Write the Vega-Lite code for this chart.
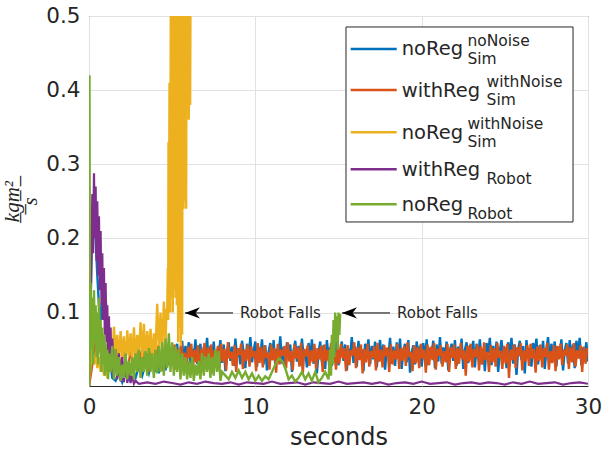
{
  "$schema": "https://vega.github.io/schema/vega-lite/v6.json",
  "width": 499,
  "height": 370,
  "autosize": "none",
  "padding": {"left": 89, "top": 16, "right": 15, "bottom": 70},
  "background": "white",
  "config": {
    "view": {"stroke": "#262626", "strokeWidth": 1},
    "font": "DejaVu Sans",
    "axis": {"domain": false, "ticks": false, "gridColor": "#e2e2e2", "gridWidth": 1, "labelColor": "#262626", "titleColor": "#262626", "labelFont": "DejaVu Sans", "titleFont": "DejaVu Sans", "titleFontWeight": "normal"}
  },
  "datasets": {
    "blue": [{"t":0,"v":0},{"t":0.1,"v":0.12},{"t":0.2,"v":0.24},{"t":0.3,"v":0.26},{"t":0.4,"v":0.2},{"t":0.5,"v":0.15},{"t":0.6,"v":0.11},{"t":0.7,"v":0.09},{"t":0.8,"v":0.12},{"t":0.9,"v":0.13},{"t":1,"v":0.12},{"t":1.1,"v":0.08},{"t":1.2,"v":0.05},{"t":1.3,"v":0.03},{"t":1.4,"v":0.012},
{"t":1.6,"v":0.008},{"t":1.8,"v":0.02},{"t":2,"v":0.006},{"t":2.2,"v":0.018},{"t":2.4,"v":0.01},{"t":2.6,"v":0.025},{"t":2.8,"v":0.012},{"t":3,"v":0.028},{"t":3.2,"v":0.015},{"t":3.4,"v":0.032},{"t":3.6,"v":0.018},{"t":3.8,"v":0.036},
{"t":4,"v":0.02},{"t":4.1,"v":0.035},{"t":4.2,"v":0.018},{"t":4.3,"v":0.04},{"t":4.4,"v":0.025},{"t":4.5,"v":0.044},{"t":4.6,"v":0.022},{"t":4.7,"v":0.038},{"t":4.8,"v":0.03},{"t":4.9,"v":0.047},
{"t":5,"v":0.028},{"t":5.1,"v":0.052},{"t":5.2,"v":0.036},{"t":5.3,"v":0.058},{"t":5.4,"v":0.03},{"t":5.5,"v":0.049},{"t":5.6,"v":0.062},{"t":5.7,"v":0.033},{"t":5.8,"v":0.055},{"t":5.9,"v":0.041},
{"t":6,"v":0.06},{"t":6.1,"v":0.027},{"t":6.2,"v":0.051},{"t":6.3,"v":0.038},{"t":6.4,"v":0.064},{"t":6.5,"v":0.031},{"t":6.6,"v":0.047},{"t":6.7,"v":0.058},{"t":6.8,"v":0.024},{"t":6.9,"v":0.053},
{"t":7,"v":0.042},{"t":7.1,"v":0.066},{"t":7.2,"v":0.029},{"t":7.3,"v":0.055},{"t":7.4,"v":0.037},{"t":7.5,"v":0.061},{"t":7.6,"v":0.026},{"t":7.7,"v":0.05},{"t":7.8,"v":0.044},{"t":7.9,"v":0.063},
{"t":8,"v":0.032},{"t":8.1,"v":0.057},{"t":8.2,"v":0.021},{"t":8.3,"v":0.048},{"t":8.4,"v":0.06},{"t":8.5,"v":0.035},{"t":8.6,"v":0.054},{"t":8.7,"v":0.028},{"t":8.8,"v":0.065},{"t":8.9,"v":0.04},
{"t":9,"v":0.052},{"t":9.1,"v":0.03},{"t":9.2,"v":0.062},{"t":9.3,"v":0.045},{"t":9.4,"v":0.025},{"t":9.5,"v":0.058},{"t":9.6,"v":0.038},{"t":9.7,"v":0.067},{"t":9.8,"v":0.033},{"t":9.9,"v":0.049},
{"t":10,"v":0.061},{"t":10.1,"v":0.027},{"t":10.2,"v":0.053},{"t":10.3,"v":0.041},{"t":10.4,"v":0.064},{"t":10.5,"v":0.03},{"t":10.6,"v":0.056},{"t":10.7,"v":0.022},{"t":10.8,"v":0.047},{"t":10.9,"v":0.059},
{"t":11,"v":0.036},{"t":11.1,"v":0.063},{"t":11.2,"v":0.028},{"t":11.3,"v":0.051},{"t":11.4,"v":0.043},{"t":11.5,"v":0.068},{"t":11.6,"v":0.031},{"t":11.7,"v":0.054},{"t":11.8,"v":0.025},{"t":11.9,"v":0.06},
{"t":12,"v":0.039},{"t":12.1,"v":0.057},{"t":12.2,"v":0.02},{"t":12.3,"v":0.049},{"t":12.4,"v":0.062},{"t":12.5,"v":0.034},{"t":12.6,"v":0.055},{"t":12.7,"v":0.029},{"t":12.8,"v":0.065},{"t":12.9,"v":0.042},
{"t":13,"v":0.05},{"t":13.1,"v":0.026},{"t":13.2,"v":0.059},{"t":13.3,"v":0.037},{"t":13.4,"v":0.064},{"t":13.5,"v":0.031},{"t":13.6,"v":0.052},{"t":13.7,"v":0.018},{"t":13.8,"v":0.046},{"t":13.9,"v":0.061},
{"t":14,"v":0.033},{"t":14.1,"v":0.056},{"t":14.2,"v":0.024},{"t":14.3,"v":0.063},{"t":14.4,"v":0.04},{"t":14.5,"v":0.053},{"t":14.6,"v":0.028},{"t":14.7,"v":0.06},{"t":14.8,"v":0.036},{"t":14.9,"v":0.066},
{"t":15,"v":0.029},{"t":15.1,"v":0.048},{"t":15.2,"v":0.061},{"t":15.3,"v":0.035},{"t":15.4,"v":0.057},{"t":15.5,"v":0.022},{"t":15.6,"v":0.051},{"t":15.7,"v":0.043},{"t":15.8,"v":0.067},{"t":15.9,"v":0.032},
{"t":16,"v":0.054},{"t":16.1,"v":0.027},{"t":16.2,"v":0.062},{"t":16.3,"v":0.039},{"t":16.4,"v":0.05},{"t":16.5,"v":0.021},{"t":16.6,"v":0.058},{"t":16.7,"v":0.045},{"t":16.8,"v":0.064},{"t":16.9,"v":0.03},
{"t":17,"v":0.055},{"t":17.1,"v":0.037},{"t":17.2,"v":0.061},{"t":17.3,"v":0.026},{"t":17.4,"v":0.049},{"t":17.5,"v":0.063},{"t":17.6,"v":0.034},{"t":17.7,"v":0.057},{"t":17.8,"v":0.023},{"t":17.9,"v":0.052},
{"t":18,"v":0.041},{"t":18.1,"v":0.066},{"t":18.2,"v":0.031},{"t":18.3,"v":0.054},{"t":18.4,"v":0.028},{"t":18.5,"v":0.06},{"t":18.6,"v":0.038},{"t":18.7,"v":0.065},{"t":18.8,"v":0.024},{"t":18.9,"v":0.05},
{"t":19,"v":0.058},{"t":19.1,"v":0.033},{"t":19.2,"v":0.063},{"t":19.3,"v":0.019},{"t":19.4,"v":0.047},{"t":19.5,"v":0.056},{"t":19.6,"v":0.03},{"t":19.7,"v":0.061},{"t":19.8,"v":0.042},{"t":19.9,"v":0.055},
{"t":20,"v":0.027},{"t":20.1,"v":0.059},{"t":20.2,"v":0.036},{"t":20.3,"v":0.064},{"t":20.4,"v":0.029},{"t":20.5,"v":0.052},{"t":20.6,"v":0.044},{"t":20.7,"v":0.062},{"t":20.8,"v":0.025},{"t":20.9,"v":0.057},
{"t":21,"v":0.034},{"t":21.1,"v":0.067},{"t":21.2,"v":0.031},{"t":21.3,"v":0.053},{"t":21.4,"v":0.04},{"t":21.5,"v":0.061},{"t":21.6,"v":0.022},{"t":21.7,"v":0.049},{"t":21.8,"v":0.058},{"t":21.9,"v":0.035},
{"t":22,"v":0.063},{"t":22.1,"v":0.028},{"t":22.2,"v":0.054},{"t":22.3,"v":0.039},{"t":22.4,"v":0.065},{"t":22.5,"v":0.024},{"t":22.6,"v":0.05},{"t":22.7,"v":0.06},{"t":22.8,"v":0.032},{"t":22.9,"v":0.056},
{"t":23,"v":0.041},{"t":23.1,"v":0.062},{"t":23.2,"v":0.026},{"t":23.3,"v":0.058},{"t":23.4,"v":0.037},{"t":23.5,"v":0.064},{"t":23.6,"v":0.03},{"t":23.7,"v":0.051},{"t":23.8,"v":0.021},{"t":23.9,"v":0.059},
{"t":24,"v":0.045},{"t":24.1,"v":0.066},{"t":24.2,"v":0.029},{"t":24.3,"v":0.055},{"t":24.4,"v":0.034},{"t":24.5,"v":0.061},{"t":24.6,"v":0.02},{"t":24.7,"v":0.048},{"t":24.8,"v":0.063},{"t":24.9,"v":0.038},
{"t":25,"v":0.053},{"t":25.1,"v":0.025},{"t":25.2,"v":0.06},{"t":25.3,"v":0.042},{"t":25.4,"v":0.066},{"t":25.5,"v":0.031},{"t":25.6,"v":0.057},{"t":25.7,"v":0.016},{"t":25.8,"v":0.05},{"t":25.9,"v":0.062},
{"t":26,"v":0.036},{"t":26.1,"v":0.055},{"t":26.2,"v":0.018},{"t":26.3,"v":0.063},{"t":26.4,"v":0.04},{"t":26.5,"v":0.052},{"t":26.6,"v":0.027},{"t":26.7,"v":0.059},{"t":26.8,"v":0.044},{"t":26.9,"v":0.065},
{"t":27,"v":0.03},{"t":27.1,"v":0.056},{"t":27.2,"v":0.038},{"t":27.3,"v":0.062},{"t":27.4,"v":0.024},{"t":27.5,"v":0.051},{"t":27.6,"v":0.067},{"t":27.7,"v":0.033},{"t":27.8,"v":0.058},{"t":27.9,"v":0.043},
{"t":28,"v":0.061},{"t":28.1,"v":0.027},{"t":28.2,"v":0.054},{"t":28.3,"v":0.039},{"t":28.4,"v":0.064},{"t":28.5,"v":0.022},{"t":28.6,"v":0.049},{"t":28.7,"v":0.059},{"t":28.8,"v":0.031},{"t":28.9,"v":0.063},
{"t":29,"v":0.036},{"t":29.1,"v":0.057},{"t":29.2,"v":0.025},{"t":29.3,"v":0.062},{"t":29.4,"v":0.045},{"t":29.5,"v":0.066},{"t":29.6,"v":0.029},{"t":29.7,"v":0.053},{"t":29.8,"v":0.04},{"t":29.9,"v":0.06},{"t":30,"v":0.034}],
    "orange": [{"t":0,"v":0},{"t":0.2,"v":0.03},{"t":0.4,"v":0.062},{"t":0.5,"v":0.045},{"t":0.6,"v":0.058},{"t":0.8,"v":0.035},{"t":0.9,"v":0.05},
{"t":1.1,"v":0.025},{"t":1.3,"v":0.05},{"t":1.5,"v":0.022},{"t":1.7,"v":0.048},{"t":1.9,"v":0.028},{"t":2.1,"v":0.052},{"t":2.3,"v":0.02},{"t":2.5,"v":0.047},{"t":2.7,"v":0.03},{"t":2.9,"v":0.055},
{"t":3.05,"v":0.03},{"t":3.15,"v":0.048},{"t":3.25,"v":0.022},{"t":3.35,"v":0.052},{"t":3.45,"v":0.035},{"t":3.55,"v":0.045},{"t":3.65,"v":0.02},{"t":3.75,"v":0.055},{"t":3.85,"v":0.038},{"t":3.95,"v":0.05},
{"t":4.05,"v":0.026},{"t":4.15,"v":0.056},{"t":4.25,"v":0.033},{"t":4.35,"v":0.047},{"t":4.45,"v":0.021},{"t":4.55,"v":0.053},{"t":4.65,"v":0.04},{"t":4.75,"v":0.058},{"t":4.85,"v":0.028},{"t":4.95,"v":0.049},
{"t":5.05,"v":0.036},{"t":5.15,"v":0.057},{"t":5.25,"v":0.023},{"t":5.35,"v":0.051},{"t":5.45,"v":0.042},{"t":5.55,"v":0.06},{"t":5.65,"v":0.027},{"t":5.75,"v":0.046},{"t":5.85,"v":0.019},{"t":5.95,"v":0.054},
{"t":6.05,"v":0.039},{"t":6.15,"v":0.058},{"t":6.25,"v":0.025},{"t":6.35,"v":0.05},{"t":6.45,"v":0.033},{"t":6.55,"v":0.056},{"t":6.65,"v":0.021},{"t":6.75,"v":0.048},{"t":6.85,"v":0.044},{"t":6.95,"v":0.059},
{"t":7.05,"v":0.029},{"t":7.15,"v":0.053},{"t":7.25,"v":0.037},{"t":7.35,"v":0.057},{"t":7.45,"v":0.018},{"t":7.55,"v":0.049},{"t":7.65,"v":0.041},{"t":7.75,"v":0.055},{"t":7.85,"v":0.026},{"t":7.95,"v":0.058},
{"t":8.05,"v":0.034},{"t":8.15,"v":0.051},{"t":8.25,"v":0.022},{"t":8.35,"v":0.06},{"t":8.45,"v":0.038},{"t":8.55,"v":0.047},{"t":8.65,"v":0.028},{"t":8.75,"v":0.056},{"t":8.85,"v":0.02},{"t":8.95,"v":0.052},
{"t":9.05,"v":0.043},{"t":9.15,"v":0.058},{"t":9.25,"v":0.024},{"t":9.35,"v":0.05},{"t":9.45,"v":0.035},{"t":9.55,"v":0.057},{"t":9.65,"v":0.027},{"t":9.75,"v":0.054},{"t":9.85,"v":0.04},{"t":9.95,"v":0.048},
{"t":10.05,"v":0.021},{"t":10.15,"v":0.059},{"t":10.25,"v":0.032},{"t":10.35,"v":0.053},{"t":10.45,"v":0.026},{"t":10.55,"v":0.056},{"t":10.65,"v":0.039},{"t":10.75,"v":0.046},{"t":10.85,"v":0.023},{"t":10.95,"v":0.057},
{"t":11.05,"v":0.036},{"t":11.15,"v":0.052},{"t":11.25,"v":0.019},{"t":11.35,"v":0.058},{"t":11.45,"v":0.03},{"t":11.55,"v":0.05},{"t":11.65,"v":0.042},{"t":11.75,"v":0.055},{"t":11.85,"v":0.025},{"t":11.95,"v":0.06},
{"t":12.05,"v":0.034},{"t":12.15,"v":0.048},{"t":12.25,"v":0.022},{"t":12.35,"v":0.057},{"t":12.45,"v":0.038},{"t":12.55,"v":0.053},{"t":12.65,"v":0.027},{"t":12.75,"v":0.059},{"t":12.85,"v":0.017},{"t":12.95,"v":0.051},
{"t":13.05,"v":0.041},{"t":13.15,"v":0.056},{"t":13.25,"v":0.028},{"t":13.35,"v":0.049},{"t":13.45,"v":0.033},{"t":13.55,"v":0.058},{"t":13.65,"v":0.024},{"t":13.75,"v":0.052},{"t":13.85,"v":0.037},{"t":13.95,"v":0.055},
{"t":14.05,"v":0.02},{"t":14.15,"v":0.057},{"t":14.25,"v":0.035},{"t":14.35,"v":0.05},{"t":14.45,"v":0.026},{"t":14.55,"v":0.059},{"t":14.65,"v":0.04},{"t":14.75,"v":0.047},{"t":14.85,"v":0.023},{"t":14.95,"v":0.054},
{"t":15.05,"v":0.031},{"t":15.15,"v":0.058},{"t":15.25,"v":0.038},{"t":15.35,"v":0.052},{"t":15.45,"v":0.021},{"t":15.55,"v":0.056},{"t":15.65,"v":0.029},{"t":15.75,"v":0.049},{"t":15.85,"v":0.042},{"t":15.95,"v":0.06},
{"t":16.05,"v":0.025},{"t":16.15,"v":0.053},{"t":16.25,"v":0.036},{"t":16.35,"v":0.057},{"t":16.45,"v":0.018},{"t":16.55,"v":0.051},{"t":16.65,"v":0.033},{"t":16.75,"v":0.058},{"t":16.85,"v":0.027},{"t":16.95,"v":0.048},
{"t":17.05,"v":0.039},{"t":17.15,"v":0.055},{"t":17.25,"v":0.022},{"t":17.35,"v":0.059},{"t":17.45,"v":0.034},{"t":17.55,"v":0.05},{"t":17.65,"v":0.026},{"t":17.75,"v":0.056},{"t":17.85,"v":0.041},{"t":17.95,"v":0.053},
{"t":18.05,"v":0.02},{"t":18.15,"v":0.057},{"t":18.25,"v":0.03},{"t":18.35,"v":0.049},{"t":18.45,"v":0.037},{"t":18.55,"v":0.058},{"t":18.65,"v":0.024},{"t":18.75,"v":0.052},{"t":18.85,"v":0.035},{"t":18.95,"v":0.055},
{"t":19.05,"v":0.028},{"t":19.15,"v":0.06},{"t":19.25,"v":0.04},{"t":19.35,"v":0.047},{"t":19.45,"v":0.021},{"t":19.55,"v":0.056},{"t":19.65,"v":0.032},{"t":19.75,"v":0.053},{"t":19.85,"v":0.025},{"t":19.95,"v":0.058},
{"t":20.05,"v":0.038},{"t":20.15,"v":0.05},{"t":20.25,"v":0.019},{"t":20.35,"v":0.057},{"t":20.45,"v":0.029},{"t":20.55,"v":0.054},{"t":20.65,"v":0.036},{"t":20.75,"v":0.059},{"t":20.85,"v":0.023},{"t":20.95,"v":0.051},
{"t":21.05,"v":0.042},{"t":21.15,"v":0.056},{"t":21.25,"v":0.027},{"t":21.35,"v":0.048},{"t":21.45,"v":0.033},{"t":21.55,"v":0.058},{"t":21.65,"v":0.02},{"t":21.75,"v":0.053},{"t":21.85,"v":0.039},{"t":21.95,"v":0.057},
{"t":22.05,"v":0.024},{"t":22.15,"v":0.052},{"t":22.25,"v":0.031},{"t":22.35,"v":0.059},{"t":22.45,"v":0.037},{"t":22.55,"v":0.049},{"t":22.65,"v":0.015},{"t":22.75,"v":0.055},{"t":22.85,"v":0.034},{"t":22.95,"v":0.058},
{"t":23.05,"v":0.026},{"t":23.15,"v":0.051},{"t":23.25,"v":0.04},{"t":23.35,"v":0.057},{"t":23.45,"v":0.022},{"t":23.55,"v":0.054},{"t":23.65,"v":0.03},{"t":23.75,"v":0.06},{"t":23.85,"v":0.036},{"t":23.95,"v":0.047},
{"t":24.05,"v":0.02},{"t":24.15,"v":0.056},{"t":24.25,"v":0.033},{"t":24.35,"v":0.052},{"t":24.45,"v":0.027},{"t":24.55,"v":0.059},{"t":24.65,"v":0.039},{"t":24.75,"v":0.048},{"t":24.85,"v":0.024},{"t":24.95,"v":0.055},
{"t":25.05,"v":0.031},{"t":25.15,"v":0.058},{"t":25.25,"v":0.012},{"t":25.35,"v":0.05},{"t":25.45,"v":0.036},{"t":25.55,"v":0.057},{"t":25.65,"v":0.025},{"t":25.75,"v":0.053},{"t":25.85,"v":0.041},{"t":25.95,"v":0.059},
{"t":26.05,"v":0.022},{"t":26.15,"v":0.049},{"t":26.25,"v":0.034},{"t":26.35,"v":0.056},{"t":26.45,"v":0.028},{"t":26.55,"v":0.058},{"t":26.65,"v":0.038},{"t":26.75,"v":0.051},{"t":26.85,"v":0.019},{"t":26.95,"v":0.054},
{"t":27.05,"v":0.035},{"t":27.15,"v":0.057},{"t":27.25,"v":0.026},{"t":27.35,"v":0.052},{"t":27.45,"v":0.04},{"t":27.55,"v":0.059},{"t":27.65,"v":0.023},{"t":27.75,"v":0.048},{"t":27.85,"v":0.032},{"t":27.95,"v":0.056},
{"t":28.05,"v":0.021},{"t":28.15,"v":0.055},{"t":28.25,"v":0.037},{"t":28.35,"v":0.058},{"t":28.45,"v":0.029},{"t":28.55,"v":0.05},{"t":28.65,"v":0.042},{"t":28.75,"v":0.057},{"t":28.85,"v":0.024},{"t":28.95,"v":0.053},
{"t":29.05,"v":0.033},{"t":29.15,"v":0.059},{"t":29.25,"v":0.027},{"t":29.35,"v":0.049},{"t":29.45,"v":0.038},{"t":29.55,"v":0.056},{"t":29.65,"v":0.02},{"t":29.75,"v":0.054},{"t":29.85,"v":0.031},{"t":29.95,"v":0.052}],
    "yellow": [{"t":0,"v":0},{"t":0.1,"v":0.03},{"t":0.2,"v":0.05},{"t":0.3,"v":0.03},{"t":0.4,"v":0.045},{"t":0.5,"v":0.025},{"t":0.6,"v":0.04},{"t":0.7,"v":0.02},{"t":0.8,"v":0.035},{"t":0.9,"v":0.015},{"t":1,"v":0.03},{"t":1.1,"v":0.012},{"t":1.2,"v":0.03},{"t":1.3,"v":0.02},
{"t":1.4,"v":0.03},{"t":1.5,"v":0.081},{"t":1.6,"v":0.045},{"t":1.7,"v":0.07},{"t":1.8,"v":0.035},{"t":1.9,"v":0.075},{"t":2,"v":0.04},{"t":2.1,"v":0.068},{"t":2.2,"v":0.03},{"t":2.3,"v":0.076},{"t":2.4,"v":0.042},{"t":2.5,"v":0.072},{"t":2.6,"v":0.035},{"t":2.7,"v":0.08},{"t":2.8,"v":0.038},{"t":2.9,"v":0.07},{"t":3,"v":0.045},{"t":3.1,"v":0.087},{"t":3.2,"v":0.04},{"t":3.3,"v":0.085},{"t":3.4,"v":0.036},{"t":3.5,"v":0.075},{"t":3.6,"v":0.044},{"t":3.7,"v":0.078},{"t":3.8,"v":0.032},{"t":3.9,"v":0.072},{"t":4,"v":0.048},{"t":4.1,"v":0.112},{"t":4.2,"v":0.05},{"t":4.3,"v":0.1},{"t":4.4,"v":0.045},{"t":4.5,"v":0.115},{"t":4.6,"v":0.06},{"t":4.66,"v":0.105},
{"t":4.7,"v":0.1},{"t":4.74,"v":0.16},{"t":4.76,"v":0.09},{"t":4.78,"v":0.33},{"t":4.8,"v":0.12},{"t":4.84,"v":0.41},{"t":4.88,"v":0.1},{"t":4.92,"v":0.55},{"t":4.96,"v":0.12},{"t":5,"v":0.65},{"t":5.04,"v":0.1},{"t":5.08,"v":0.7},{"t":5.12,"v":0.13},{"t":5.16,"v":0.68},{"t":5.2,"v":0.12},{"t":5.24,"v":0.7},{"t":5.28,"v":0.11},{"t":5.32,"v":0.66},{"t":5.36,"v":0.06},{"t":5.4,"v":0.7},{"t":5.44,"v":0.08},{"t":5.48,"v":0.64},{"t":5.52,"v":0.055},{"t":5.56,"v":0.7},{"t":5.6,"v":0.07},{"t":5.64,"v":0.68},{"t":5.68,"v":0.24},{"t":5.72,"v":0.7},{"t":5.76,"v":0.25},{"t":5.8,"v":0.66},{"t":5.84,"v":0.24},{"t":5.88,"v":0.7},{"t":5.92,"v":0.37},{"t":5.96,"v":0.68},{"t":6,"v":0.36},{"t":6.04,"v":0.7},{"t":6.08,"v":0.38},{"t":6.12,"v":0.65}],
    "purple": [{"t":0,"v":0},{"t":0.1,"v":0.1},{"t":0.2,"v":0.26},{"t":0.25,"v":0.18},{"t":0.3,"v":0.288},{"t":0.35,"v":0.2},{"t":0.4,"v":0.27},{"t":0.45,"v":0.17},{"t":0.5,"v":0.25},{"t":0.55,"v":0.15},{"t":0.6,"v":0.23},{"t":0.65,"v":0.13},{"t":0.7,"v":0.21},{"t":0.75,"v":0.11},{"t":0.8,"v":0.18},{"t":0.85,"v":0.09},{"t":0.9,"v":0.16},{"t":0.95,"v":0.07},{"t":1,"v":0.14},{"t":1.05,"v":0.06},{"t":1.1,"v":0.11},{"t":1.15,"v":0.04},{"t":1.2,"v":0.095},{"t":1.25,"v":0.03},{"t":1.3,"v":0.08},{"t":1.35,"v":0.02},{"t":1.4,"v":0.065},{"t":1.5,"v":0.012},{"t":1.6,"v":0.05},{"t":1.7,"v":0.01},{"t":1.8,"v":0.045},{"t":1.9,"v":0.007},{"t":2,"v":0.04},{"t":2.1,"v":0.006},{"t":2.2,"v":0.038},{"t":2.3,"v":0.005},{"t":2.4,"v":0.03},{"t":2.5,"v":0.005},{"t":2.6,"v":0.015},{"t":2.7,"v":0.004},{"t":2.8,"v":0.008},{"t":3,"v":0.004},{"t":3.5,"v":0.006},{"t":4,"v":0.004},{"t":4.5,"v":0.007},{"t":5,"v":0.005},{"t":5.5,"v":0.003},{"t":6,"v":0.006},{"t":6.5,"v":0.004},{"t":7,"v":0.007},{"t":7.5,"v":0.005},{"t":8,"v":0.004},{"t":8.5,"v":0.006},{"t":9,"v":0.003},{"t":9.5,"v":0.006},{"t":10,"v":0.005},{"t":10.5,"v":0.004},{"t":11,"v":0.007},{"t":11.5,"v":0.004},{"t":12,"v":0.005},{"t":12.5,"v":0.006},{"t":13,"v":0.003},{"t":13.5,"v":0.006},{"t":14,"v":0.005},{"t":14.5,"v":0.004},{"t":15,"v":0.007},{"t":15.5,"v":0.004},{"t":16,"v":0.005},{"t":16.5,"v":0.006},{"t":17,"v":0.004},{"t":17.5,"v":0.006},{"t":18,"v":0.003},{"t":18.5,"v":0.005},{"t":19,"v":0.006},{"t":19.5,"v":0.004},{"t":20,"v":0.007},{"t":20.5,"v":0.004},{"t":21,"v":0.005},{"t":21.5,"v":0.006},{"t":22,"v":0.003},{"t":22.5,"v":0.005},{"t":23,"v":0.006},{"t":23.5,"v":0.004},{"t":24,"v":0.006},{"t":24.5,"v":0.005},{"t":25,"v":0.003},{"t":25.5,"v":0.006},{"t":26,"v":0.004},{"t":26.5,"v":0.007},{"t":27,"v":0.004},{"t":27.5,"v":0.005},{"t":28,"v":0.006},{"t":28.5,"v":0.003},{"t":29,"v":0.005},{"t":29.5,"v":0.006},{"t":30,"v":0.004}],
    "green": [{"t":0,"v":0},{"t":0.03,"v":0.42},{"t":0.06,"v":0.02},{"t":0.1,"v":0.14},{"t":0.15,"v":0.05},{"t":0.2,"v":0.12},{"t":0.25,"v":0.03},{"t":0.3,"v":0.13},{"t":0.35,"v":0.06},{"t":0.4,"v":0.11},{"t":0.45,"v":0.04},{"t":0.5,"v":0.1},{"t":0.55,"v":0.03},{"t":0.6,"v":0.12},{"t":0.65,"v":0.05},{"t":0.7,"v":0.09},{"t":0.75,"v":0.02},{"t":0.8,"v":0.08},{"t":0.85,"v":0.03},{"t":0.9,"v":0.07},{"t":0.95,"v":0.015},{"t":1,"v":0.06},{"t":1.05,"v":0.02},{"t":1.1,"v":0.05},{"t":1.15,"v":0.01},{"t":1.2,"v":0.045},{"t":1.3,"v":0.02},{"t":1.4,"v":0.055},{"t":1.5,"v":0.01},{"t":1.6,"v":0.05},{"t":1.7,"v":0.015},{"t":1.8,"v":0.04},{"t":1.9,"v":0.008},{"t":2,"v":0.03},{"t":2.1,"v":0.012},{"t":2.2,"v":0.045},{"t":2.3,"v":0.01},{"t":2.4,"v":0.035},{"t":2.5,"v":0.015},{"t":2.6,"v":0.04},{"t":2.7,"v":0.01},{"t":2.8,"v":0.045},{"t":2.9,"v":0.02},{"t":3,"v":0.05},{"t":3.1,"v":0.012},{"t":3.2,"v":0.04},{"t":3.3,"v":0.02},{"t":3.4,"v":0.048},{"t":3.5,"v":0.015},{"t":3.6,"v":0.052},{"t":3.7,"v":0.02},{"t":3.8,"v":0.045},{"t":3.9,"v":0.012},{"t":4,"v":0.05},{"t":4.1,"v":0.018},{"t":4.2,"v":0.055},{"t":4.3,"v":0.02},{"t":4.4,"v":0.06},{"t":4.5,"v":0.015},{"t":4.6,"v":0.065},{"t":4.7,"v":0.025},{"t":4.8,"v":0.072},{"t":4.9,"v":0.02},{"t":5,"v":0.06},{"t":5.1,"v":0.015},{"t":5.2,"v":0.055},{"t":5.3,"v":0.02},{"t":5.4,"v":0.05},{"t":5.5,"v":0.01},{"t":5.6,"v":0.045},{"t":5.7,"v":0.015},{"t":5.8,"v":0.04},{"t":5.9,"v":0.01},{"t":6,"v":0.035},{"t":6.1,"v":0.012},{"t":6.2,"v":0.04},{"t":6.3,"v":0.008},{"t":6.4,"v":0.03},{"t":6.5,"v":0.015},{"t":6.6,"v":0.035},{"t":6.7,"v":0.01},{"t":6.8,"v":0.045},{"t":6.9,"v":0.015},{"t":7,"v":0.04},{"t":7.1,"v":0.02},{"t":7.2,"v":0.045},{"t":7.3,"v":0.012},{"t":7.4,"v":0.04},{"t":7.5,"v":0.015},{"t":7.6,"v":0.05},{"t":7.7,"v":0.02},{"t":7.8,"v":0.048},{"t":7.9,"v":0.008},{"t":8,"v":0.02},{"t":8.2,"v":0.015},{"t":8.4,"v":0.01},{"t":8.6,"v":0.02},{"t":8.8,"v":0.012},{"t":9,"v":0.022},{"t":9.2,"v":0.012},{"t":9.4,"v":0.02},{"t":9.6,"v":0.01},{"t":9.8,"v":0.018},{"t":10,"v":0.008},{"t":10.2,"v":0.015},{"t":10.4,"v":0.008},{"t":10.6,"v":0.014},{"t":10.8,"v":0.01},{"t":11,"v":0.02},{"t":11.2,"v":0.03},{"t":11.4,"v":0.038},{"t":11.6,"v":0.035},{"t":11.8,"v":0.025},{"t":12,"v":0.01},{"t":12.2,"v":0.015},{"t":12.4,"v":0.007},{"t":12.6,"v":0.012},{"t":12.8,"v":0.02},{"t":13,"v":0.01},{"t":13.2,"v":0.018},{"t":13.4,"v":0.008},{"t":13.6,"v":0.02},{"t":13.8,"v":0.006},{"t":14,"v":0.012},{"t":14.2,"v":0.02},{"t":14.4,"v":0.01},{"t":14.5,"v":0.05},{"t":14.55,"v":0.015},{"t":14.6,"v":0.07},{"t":14.65,"v":0.03},{"t":14.7,"v":0.09},{"t":14.75,"v":0.04},{"t":14.8,"v":0.1},{"t":14.85,"v":0.06},{"t":14.9,"v":0.095},{"t":14.95,"v":0.05},{"t":15,"v":0.1},{"t":15.05,"v":0.07},{"t":15.1,"v":0.098}],
    "legend": [
      {"series":"b","main":"noReg","sup":"noNoise","sub":"Sim","ly":0.4555},
      {"series":"o","main":"withReg","sup":"withNoise","sub":"Sim","ly":0.4002},
      {"series":"y","main":"noReg","sup":"withNoise","sub":"Sim","ly":0.3432},
      {"series":"p","main":"withReg","sup":"","sub":"Robot","ly":0.2933},
      {"series":"g","main":"noReg","sup":"","sub":"Robot","ly":0.2461}
    ],
    "notes": [
      {"head":5.77,"tail":8.66,"lvl":0.0995,"tx":9.08,"label":"Robot Falls"},
      {"head":15.21,"tail":18.1,"lvl":0.0995,"tx":18.52,"label":"Robot Falls"}
    ]
  },
  "layer": [
    {
      "data": {"name": "blue"},
      "mark": {"type": "line", "color": "#0072BD", "strokeWidth": 2.4, "clip": true},
      "encoding": {
        "x": {"field": "t", "type": "quantitative", "scale": {"domain": [0, 30], "nice": false, "zero": false},
              "axis": {"values": [0, 10, 20, 30], "labelFlush": false, "labelFontSize": 21.5, "labelPadding": 10, "title": "seconds", "titleFontSize": 24, "titlePadding": 8, "grid": true}},
        "y": {"field": "v", "type": "quantitative", "scale": {"domain": [0.001, 0.5], "nice": false, "zero": false},
              "axis": {"values": [0.1, 0.2, 0.3, 0.4, 0.5], "format": ".1f", "labelFontSize": 21.5, "labelPadding": 9, "title": ["k\u0332g\u0332m\u0332\u00b2\u0332", "s"], "titleFont": "Liberation Serif", "titleFontStyle": "italic", "titleFontSize": 21, "titleLineHeight": 18, "titlePadding": 5, "grid": true}}
      }
    },
    {
      "data": {"name": "orange"},
      "mark": {"type": "line", "color": "#D95319", "strokeWidth": 2.4, "clip": true},
      "encoding": {"x": {"field": "t", "type": "quantitative"}, "y": {"field": "v", "type": "quantitative"}}
    },
    {
      "data": {"name": "yellow"},
      "mark": {"type": "line", "color": "#EDB120", "strokeWidth": 2.4, "clip": true},
      "encoding": {"x": {"field": "t", "type": "quantitative"}, "y": {"field": "v", "type": "quantitative"}}
    },
    {
      "data": {"name": "purple"},
      "mark": {"type": "line", "color": "#7E2F8E", "strokeWidth": 2.2, "clip": true},
      "encoding": {"x": {"field": "t", "type": "quantitative"}, "y": {"field": "v", "type": "quantitative"}}
    },
    {
      "data": {"name": "green"},
      "mark": {"type": "line", "color": "#77AC30", "strokeWidth": 2.4, "clip": true},
      "encoding": {"x": {"field": "t", "type": "quantitative"}, "y": {"field": "v", "type": "quantitative"}}
    },
    {
      "data": {"name": "notes"},
      "mark": {"type": "rule", "color": "#000000", "strokeWidth": 1},
      "encoding": {"x": {"field": "tail", "type": "quantitative"}, "x2": {"field": "head"}, "y": {"field": "lvl", "type": "quantitative"}}
    },
    {
      "data": {"name": "notes"},
      "mark": {"type": "point", "shape": "M0,0L2,-0.75L1.4,0L2,0.75Z", "filled": true, "color": "#000000", "opacity": 1, "size": 225},
      "encoding": {"x": {"field": "head", "type": "quantitative"}, "y": {"field": "lvl", "type": "quantitative"}}
    },
    {
      "data": {"name": "notes"},
      "mark": {"type": "text", "align": "left", "baseline": "middle", "fontSize": 15, "color": "#262626", "font": "DejaVu Sans"},
      "encoding": {"x": {"field": "tx", "type": "quantitative"}, "y": {"field": "lvl", "type": "quantitative"}, "text": {"field": "label"}}
    },
    {
      "data": {"values": [{}]},
      "mark": {"type": "rect", "fill": "white", "stroke": "#262626", "strokeWidth": 1},
      "encoding": {"x": {"datum": 15.45, "type": "quantitative"}, "x2": {"datum": 29.1}, "y": {"datum": 0.4852, "type": "quantitative"}, "y2": {"datum": 0.2222}}
    },
    {
      "data": {"name": "legend"},
      "mark": {"type": "rule", "strokeWidth": 2.4},
      "encoding": {
        "x": {"datum": 15.73, "type": "quantitative"}, "x2": {"datum": 18.5},
        "y": {"field": "ly", "type": "quantitative"},
        "color": {"field": "series", "type": "nominal", "legend": null, "scale": {"domain": ["b", "o", "y", "p", "g"], "range": ["#0072BD", "#D95319", "#EDB120", "#7E2F8E", "#77AC30"]}}
      }
    },
    {
      "data": {"name": "legend"},
      "mark": {"type": "text", "align": "left", "baseline": "alphabetic", "dy": 6.5, "fontSize": 19.5, "color": "#262626", "font": "DejaVu Sans"},
      "encoding": {"x": {"datum": 18.8, "type": "quantitative"}, "y": {"field": "ly", "type": "quantitative"}, "text": {"field": "main"}}
    },
    {
      "data": {"name": "legend"},
      "transform": [{"filter": "datum.main == 'noReg'"}],
      "mark": {"type": "text", "align": "left", "baseline": "alphabetic", "dy": -3, "fontSize": 15.5, "color": "#262626", "font": "DejaVu Sans"},
      "encoding": {"x": {"datum": 22.75, "type": "quantitative"}, "y": {"field": "ly", "type": "quantitative"}, "text": {"field": "sup"}}
    },
    {
      "data": {"name": "legend"},
      "transform": [{"filter": "datum.main == 'withReg'"}],
      "mark": {"type": "text", "align": "left", "baseline": "alphabetic", "dy": -3, "fontSize": 15.5, "color": "#262626", "font": "DejaVu Sans"},
      "encoding": {"x": {"datum": 23.9, "type": "quantitative"}, "y": {"field": "ly", "type": "quantitative"}, "text": {"field": "sup"}}
    },
    {
      "data": {"name": "legend"},
      "transform": [{"filter": "datum.main == 'noReg'"}],
      "mark": {"type": "text", "align": "left", "baseline": "alphabetic", "dy": 15, "fontSize": 15.5, "color": "#262626", "font": "DejaVu Sans"},
      "encoding": {"x": {"datum": 22.75, "type": "quantitative"}, "y": {"field": "ly", "type": "quantitative"}, "text": {"field": "sub"}}
    },
    {
      "data": {"name": "legend"},
      "transform": [{"filter": "datum.main == 'withReg'"}],
      "mark": {"type": "text", "align": "left", "baseline": "alphabetic", "dy": 15, "fontSize": 15.5, "color": "#262626", "font": "DejaVu Sans"},
      "encoding": {"x": {"datum": 23.9, "type": "quantitative"}, "y": {"field": "ly", "type": "quantitative"}, "text": {"field": "sub"}}
    }
  ]
}
